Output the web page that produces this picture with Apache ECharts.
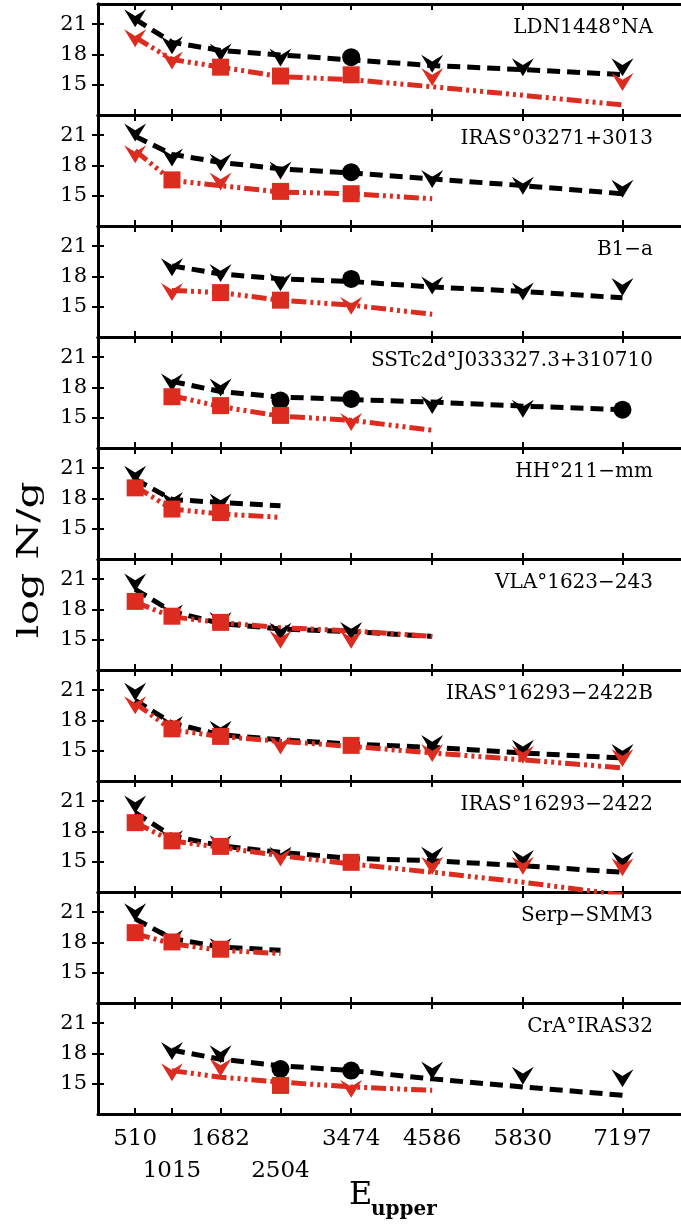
<!DOCTYPE html>
<html>
<head>
<meta charset="utf-8">
<script src="https://cdn.jsdelivr.net/npm/echarts@6/dist/echarts.min.js"></script>
<style>
html,body{margin:0;padding:0;background:#fff;}
#chart{width:681px;height:1225px;}
</style>
</head>
<body>
<div id="chart"></div>
<script>
// ---- data ----
const E_UP = [510, 1015, 1682, 2504, 3474, 4586, 5830, 7197];
const E_ROW1 = [510, 1682, 3474, 4586, 5830, 7197];   // tick labels, first row
const E_ROW2 = [1015, 2504];                          // tick labels, second row
const Y_TICKS = [15, 18, 21];
const SOURCES = ['LDN1448°NA', 'IRAS°03271+3013', 'B1−a', 'SSTc2d°J033327.3+310710', 'HH°211−mm',
  'VLA°1623−243', 'IRAS°16293−2422B', 'IRAS°16293−2422', 'Serp−SMM3', 'CrA°IRAS32'];

// black dashed fitted curve (log N/g at each E_UP; null = not drawn)
const BLACK_FIT = [
  [21.5, 19.2, 18.4, 17.95, 17.46, 16.9, 16.5, 16.0],
  [20.9, 19.1, 18.3, 17.66, 17.26, 16.67, 16.0, 15.2],
  [null, 19.05, 18.25, 17.76, 17.5, 16.95, 16.52, 15.88],
  [null, 18.6, 17.6, 17.05, 16.8, 16.55, 16.15, 15.8],
  [19.9, 17.9, 17.6, 17.27, null, null, null, null],
  [20.0, 17.8, 16.6, 16.07, 15.8, 15.33, null, null],
  [20.0, 17.73, 16.58, 16.08, 15.66, 15.33, 14.78, 14.28],
  [19.86, 17.56, 16.58, 15.93, 15.33, 15.1, 14.6, 13.96],
  [20.34, 18.37, 17.56, 17.22, null, null, null, null],
  [null, 18.34, 17.43, 16.78, 16.3, 15.48, 14.68, 13.86]
];
// red dash-dot fitted curve
const RED_FIT = [
  [19.7, 17.5, 16.75, 15.8, 15.5, 14.8, 13.95, 13.0],
  [19.46, 16.5, 16.0, 15.36, 15.2, 14.7, null, null],
  [null, 16.62, 16.4, 15.65, 15.16, 14.25, null, null],
  [null, 17.18, 16.1, 15.15, 14.75, 13.76, null, null],
  [19.2, 16.95, 16.46, 16.13, null, null, null, null],
  [18.73, 17.27, 16.7, 16.2, 15.87, 15.33, null, null],
  [19.7, 17.07, 16.42, 15.93, 15.43, 14.78, 14.1, 13.3],
  [18.87, 17.07, 16.42, 15.6, 14.78, 13.96, 12.97, 11.7],
  [18.87, 17.88, 17.22, 16.9, null, null, null, null],
  [null, 16.3, 15.65, 15.16, 14.68, 14.35, null, null]
];
// black observed points
const BLACK_OBS = [
  [21.6, 18.9, 18.2, 17.7, 17.73, 17.07, 16.74, 16.74],
  [21.27, 18.8, 18.3, 17.5, 17.33, 16.67, 16.0, 15.7],
  [null, 18.9, 18.34, 17.43, 17.76, 17.1, 16.52, 16.95],
  [null, 18.5, 18.0, 16.7, 16.86, 16.27, 15.88, 15.8],
  [20.35, 17.75, 17.6, null, null, null, null, null],
  [20.68, 17.6, 16.85, 15.8, 15.87, null, null, null],
  [20.84, 17.56, 17.07, null, null, 15.66, 15.2, 14.78],
  [20.68, 17.23, 16.74, 15.6, null, 15.6, 15.27, 15.1],
  [21.0, 18.37, 17.56, null, null, null, null, null],
  [null, 18.24, 17.92, 16.46, 16.3, 16.3, 15.8, 15.55]
];
// u = upper limit (arrow), d = detection
const BLACK_KIND = ['uuuuduuu', 'uuuuduuu', '-uuuduuu', '-uudduud', 'uuu-----',
  'uuuuu---', 'uuu--uuu', 'uuuu-uuu', 'uuu-----', '-uudduuu'];
// red observed points
const RED_OBS = [
  [19.6, 17.4, 16.74, 15.86, 15.98, 15.76, null, 15.27],
  [19.1, 16.57, 16.4, 15.43, 15.2, null, null, null],
  [null, 16.46, 16.4, 15.65, 15.1, null, null, null],
  [null, 17.08, 16.2, 15.23, 14.58, null, null, null],
  [19.05, 16.95, 16.6, null, null, null, null, null],
  [18.8, 17.33, 16.72, 15.0, 15.0, null, null, null],
  [19.5, 17.17, 16.42, 15.53, 15.53, 14.78, 14.6, 14.28],
  [18.87, 17.07, 16.52, 15.43, 14.94, 14.6, 14.6, 14.45],
  [18.97, 18.05, 17.33, null, null, null, null, null],
  [null, 16.14, 16.62, 14.83, 14.5, null, null, null]
];
const RED_KIND = ['uudddu-u', 'udud----', '-uddu---', '-dddu---', 'ddd-----',
  'ddduu---', 'udduduuu', 'ddduduuu', 'ddd-----', '-uudu---'];

// ---- layout / style ----
const TOP0 = 4, H = 111, LEFT = 98, W = 585;
const FONT = '"DejaVu Serif", "Liberation Serif", serif';
const RED = '#dc2b1f';
const ARROW = 'path://M0,0 L10,6 L20,0 L10,16 Z';

const grids = [], xAxes = [], yAxes = [], series = [], graphics = [];
const N = SOURCES.length;

function fitData(arr) {
  const out = [];
  E_UP.forEach((e, k) => { if (arr[k] != null) out.push([e, arr[k]]); });
  return out;
}
function obsData(arr, kinds, detSymbol, detSize) {
  const out = [];
  E_UP.forEach((e, k) => {
    if (arr[k] == null) return;
    const up = kinds[k] === 'u';
    out.push({ value: [e, arr[k]], symbol: up ? ARROW : detSymbol, symbolSize: up ? [22, 18] : detSize });
  });
  return out;
}
const xLabelStyle = { fontFamily: FONT, fontSize: 23, color: '#000', margin: 14,
  formatter: v => String(v), showMinLabel: true, showMaxLabel: true, hideOverlap: false };

for (let i = 0; i < N; i++) {
  const top = TOP0 + i * H;
  grids.push({ left: LEFT, top: top, width: W, height: H, containLabel: false });
  const axLine = { show: true, lineStyle: { color: '#000', width: 3 } };
  const xTick = { show: true, inside: true, length: 6, customValues: E_UP, lineStyle: { color: '#000', width: 2 } };
  xAxes.push({
    type: 'value', gridIndex: i, min: 0, max: 8000, position: 'bottom',
    axisLine: axLine, axisTick: xTick, splitLine: { show: false },
    axisLabel: Object.assign({ show: i === N - 1, customValues: E_ROW1 }, xLabelStyle)
  });
  xAxes.push({
    type: 'value', gridIndex: i, min: 0, max: 8000, position: 'top',
    axisLine: axLine, axisTick: xTick, splitLine: { show: false }, axisLabel: { show: false }
  });
  const yTick = { show: true, inside: true, length: 6, customValues: Y_TICKS, lineStyle: { color: '#000', width: 2 } };
  yAxes.push({
    type: 'value', gridIndex: i, min: 12, max: 23, position: 'left',
    axisLine: axLine, axisTick: yTick, splitLine: { show: false },
    axisLabel: { customValues: Y_TICKS, fontFamily: FONT, fontSize: 21, color: '#000', margin: 11,
      showMinLabel: true, showMaxLabel: true, hideOverlap: false }
  });
  yAxes.push({
    type: 'value', gridIndex: i, min: 12, max: 23, position: 'right',
    axisLine: axLine, axisTick: yTick, splitLine: { show: false }, axisLabel: { show: false }
  });
  const xi = 2 * i, yi = 2 * i;
  series.push({
    type: 'line', xAxisIndex: xi, yAxisIndex: yi, data: fitData(BLACK_FIT[i]), showSymbol: false,
    lineStyle: { color: '#000', width: 5, type: [13, 7], cap: 'butt' }, z: 2, clip: true, silent: true
  });
  series.push({
    type: 'line', xAxisIndex: xi, yAxisIndex: yi, data: fitData(RED_FIT[i]), showSymbol: false,
    lineStyle: { color: RED, width: 5, type: [15, 4, 3, 4, 3, 4, 3, 4], cap: 'butt' }, z: 3, clip: true, silent: true
  });
  series.push({
    type: 'scatter', xAxisIndex: xi, yAxisIndex: yi, data: obsData(BLACK_OBS[i], BLACK_KIND[i], 'circle', 18),
    itemStyle: { color: '#000', opacity: 1 }, z: 4, silent: true
  });
  series.push({
    type: 'scatter', xAxisIndex: xi, yAxisIndex: yi, data: obsData(RED_OBS[i], RED_KIND[i], 'rect', 17),
    itemStyle: { color: RED, opacity: 1 }, z: 5, silent: true
  });
  graphics.push({
    type: 'text', x: 653, y: top + 24, z: 10,
    style: { text: SOURCES[i], font: '20px ' + FONT, fill: '#000', align: 'right', verticalAlign: 'middle' }
  });
}
// second row of tick labels on the bottom panel
xAxes.push({
  type: 'value', gridIndex: N - 1, min: 0, max: 8000, position: 'bottom', offset: 32,
  axisLine: { show: false }, axisTick: { show: false }, splitLine: { show: false },
  axisLabel: Object.assign({ show: true, customValues: E_ROW2 }, xLabelStyle)
});

graphics.push({
  type: 'text', x: 30, y: 560, rotation: Math.PI / 2, scaleX: 1.4, z: 10,
  style: { text: 'log N/g', font: '30px ' + FONT, fill: '#000', align: 'center', verticalAlign: 'middle' }
});
graphics.push({
  type: 'text', x: 349, y: 1196, z: 10,
  style: { text: 'E', font: '32px ' + FONT, fill: '#000', align: 'left', verticalAlign: 'middle' }
});
graphics.push({
  type: 'text', x: 371, y: 1210, z: 10,
  style: { text: 'upper', font: 'bold 20px ' + FONT, fill: '#000', align: 'left', verticalAlign: 'middle' }
});

const chart = echarts.init(document.getElementById('chart'), null, { renderer: 'canvas' });
chart.setOption({
  backgroundColor: '#fff',
  animation: false,
  grid: grids, xAxis: xAxes, yAxis: yAxes, series: series, graphic: graphics
});
</script>
</body>
</html>
